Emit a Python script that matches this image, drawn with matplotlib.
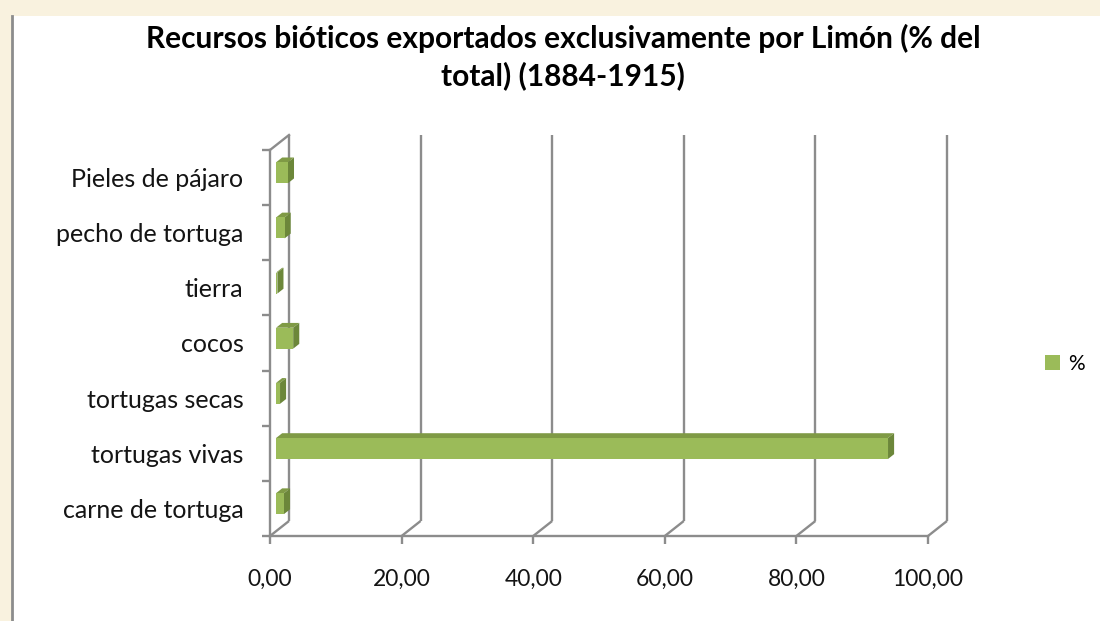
import matplotlib
matplotlib.use("Agg")
import matplotlib.pyplot as plt
from matplotlib.patches import Rectangle, Polygon, Patch

# data (bottom to top, as in the chart)
categories = ["carne de tortuga", "tortugas vivas", "tortugas secas", "cocos",
              "tierra", "pecho de tortuga", "Pieles de pájaro"]
values = [1.2, 93.0, 0.6, 2.6, 0.2, 1.3, 1.8]
xticks = [0, 20, 40, 60, 80, 100]
xtick_labels = ["0,00", "20,00", "40,00", "60,00", "80,00", "100,00"]
title = "Recursos bióticos exportados exclusivamente por Limón (% del\ntotal) (1884-1915)"
series_name = "%"

FONT = "Lato"
GRID = "#8c8c8c"
FRONT = "#9bbb59"
TOP = "#7f9a45"
SIDE = "#6c873a"

W, H, DPI = 1100, 621, 100
fig = plt.figure(figsize=(W / DPI, H / DPI), dpi=DPI)
fig.patch.set_facecolor("#f9f2df")

# white chart area with grey left border
fig.patches.append(Rectangle((13 / W, 0), 1, 1 - 16 / H, transform=fig.transFigure,
                             facecolor="white", edgecolor="none", zorder=-2))
fig.add_artist(plt.Line2D([11.5 / W, 11.5 / W], [0, 1 - 16 / H], transform=fig.transFigure,
                          color=GRID, lw=2, zorder=-1))

# front plane of the 3-D plot
ax_l, ax_r, ax_b, ax_t = 270, 928, 536, 150
ax = fig.add_axes([ax_l / W, 1 - ax_b / H, (ax_r - ax_l) / W, (ax_b - ax_t) / H])
ax.set_facecolor("none")
n = len(categories)
ax.set_xlim(0, 100)
ax.set_ylim(-0.5, n - 0.5)

px_x = 100 / (ax_r - ax_l)       # data units per pixel
px_y = n / (ax_b - ax_t)

# wall depth offset (pixels -> data)
wx, wy = 19 * px_x, 15 * px_y
LW = 1.7

for s in ["top", "right"]:
    ax.spines[s].set_visible(False)
for s in ["left", "bottom"]:
    ax.spines[s].set_color(GRID)
    ax.spines[s].set_linewidth(LW)

ax.set_xticks(xticks, xtick_labels)
ax.set_yticks(range(n), categories)
ax.set_yticks([k - 0.5 for k in range(n + 1)], minor=True)
ax.tick_params(axis="x", length=6, width=LW, color=GRID, pad=18,
               labelsize=16.5, labelcolor="#141414")
ax.tick_params(axis="y", which="major", length=0, pad=19,
               labelsize=18, labelcolor="#141414")
ax.tick_params(axis="y", which="minor", length=6, width=LW, color=GRID)
for lab in ax.get_xticklabels() + ax.get_yticklabels():
    lab.set_fontfamily(FONT)

# back wall gridlines and floor diagonals
for v in xticks:
    ax.plot([v, v + wx], [-0.5, -0.5 + wy], color=GRID, lw=LW, clip_on=False,
            solid_capstyle="butt")
    ax.plot([v + wx, v + wx], [-0.5 + wy, n - 0.5 + wy], color=GRID, lw=LW,
            clip_on=False, solid_capstyle="butt")
# left wall top diagonal
ax.plot([0, wx], [n - 0.5, n - 0.5 + wy], color=GRID, lw=LW, clip_on=False)

# 3-D bars
f, b = 0.32, 0.64
h = 0.19
for i, v in enumerate(values):
    x0, x1 = f * wx, v + f * wx
    y0, y1 = i - h + f * wy, i + h + f * wy
    dx, dy = (b - f) * wx, (b - f) * wy
    ax.add_patch(Polygon([(x0, y1), (x1, y1), (x1 + dx, y1 + dy), (x0 + dx, y1 + dy)],
                         closed=True, facecolor=TOP, edgecolor="none", clip_on=False, zorder=3))
    ax.add_patch(Polygon([(x1, y0), (x1 + dx, y0 + dy), (x1 + dx, y1 + dy), (x1, y1)],
                         closed=True, facecolor=SIDE, edgecolor="none", clip_on=False, zorder=3))
    ax.add_patch(Rectangle((x0, y0), v, y1 - y0, facecolor=FRONT, edgecolor="none",
                           clip_on=False, zorder=4))

fig.text(563 / W, 1 - 57 / H, title, ha="center", va="center", fontsize=21.5,
         fontweight="bold", family=FONT, linespacing=1.33)

fig.legend(handles=[Patch(facecolor=FRONT, label=series_name)], loc="center left",
           bbox_to_anchor=(1045 / W, 1 - 364 / H), frameon=False,
           handlelength=0.72, handleheight=0.72, handletextpad=0.4, borderpad=0,
           borderaxespad=0, prop={"family": FONT, "size": 15})

fig.savefig("out.png", dpi=DPI, facecolor=fig.get_facecolor())
